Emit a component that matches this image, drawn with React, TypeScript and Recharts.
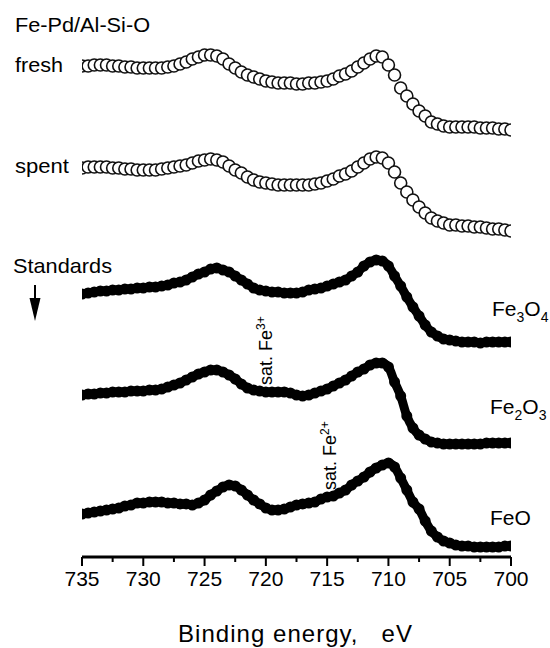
import { LineChart, Line, XAxis, YAxis } from 'recharts'

// binding energy grid (eV), high -> low as plotted
const energies = [
  735, 734.5, 734, 733.5, 733, 732.5, 732, 731.5, 731, 730.5,
  730, 729.5, 729, 728.5, 728, 727.5, 727, 726.5, 726, 725.5,
  725, 724.5, 724, 723.5, 723, 722.5, 722, 721.5, 721, 720.5,
  720, 719.5, 719, 718.5, 718, 717.5, 717, 716.5, 716, 715.5,
  715, 714.5, 714, 713.5, 713, 712.5, 712, 711.5, 711, 710.5,
  710, 709.5, 709, 708.5, 708, 707.5, 707, 706.5, 706, 705.5,
  705, 704.5, 704, 703.5, 703, 702.5, 702, 701.5, 701, 700.5,
  700,
]

// intensities (a.u.), spectra already stacked with their offsets
const fresh = [
  491, 491, 492, 492, 492, 491, 491, 490, 490, 489,
  489, 489, 489, 489, 490, 491, 493, 495, 498, 500,
  502, 502, 501, 498, 493, 489, 485, 482, 480, 478,
  476, 475, 474, 474, 474, 473, 473, 474, 474, 475,
  476, 478, 481, 483, 486, 490, 494, 498, 501, 500,
  492, 482, 469, 461, 453, 446, 441, 435, 433, 431,
  430, 430, 430, 430, 430, 429, 429, 429, 428, 428,
  427,
]
const spent = [
  389, 390, 390, 390, 390, 389, 389, 388, 388, 387,
  387, 387, 387, 388, 389, 390, 391, 392, 394, 396,
  397, 398, 397, 395, 391, 387, 384, 380, 377, 375,
  374, 373, 372, 372, 372, 372, 372, 372, 373, 374,
  376, 378, 381, 383, 386, 390, 394, 398, 400, 399,
  394, 385, 374, 365, 357, 350, 344, 339, 336, 334,
  332, 332, 331, 331, 330, 330, 329, 328, 328, 327,
  326,
]
const fe3o4 = [
  263, 264, 265, 266, 266, 267, 267, 268, 268, 269,
  269, 270, 270, 271, 272, 274, 275, 277, 280, 283,
  285, 288, 289, 287, 285, 281, 277, 273, 269, 267,
  266, 265, 265, 264, 264, 264, 265, 267, 268, 269,
  271, 273, 275, 277, 281, 285, 291, 295, 297, 296,
  291, 281, 271, 260, 250, 241, 232, 225, 221, 218,
  217, 216, 215, 215, 215, 214, 215, 215, 215, 215,
  215,
]
const fe2o3 = [
  162, 163, 163, 164, 164, 165, 165, 165, 166, 166,
  166, 167, 167, 168, 170, 172, 174, 177, 180, 183,
  185, 187, 187, 185, 182, 178, 173, 169, 167, 166,
  165, 165, 165, 165, 164, 162, 161, 162, 164, 166,
  168, 171, 174, 177, 181, 185, 188, 192, 194, 194,
  190, 175, 161, 141, 129, 122, 118, 115, 114, 113,
  113, 113, 113, 113, 113, 113, 114, 114, 114, 114,
  114,
]
const feo = [
  43, 44, 45, 46, 47, 48, 49, 51, 52, 54,
  54, 55, 55, 55, 54, 54, 53, 53, 52, 54,
  57, 62, 66, 70, 72, 71, 67, 62, 57, 53,
  49, 47, 47, 48, 50, 52, 53, 54, 55, 58,
  60, 61, 64, 67, 72, 76, 80, 85, 89, 92,
  94, 90, 79, 67, 55, 48, 36, 26, 20, 16,
  14, 12, 11, 11, 10, 10, 10, 10, 10, 11,
  11,
]

const axisTicks = [735, 732.5, 730, 727.5, 725, 722.5, 720, 717.5, 715, 712.5, 710, 707.5, 705, 702.5, 700]

const rows = energies.map((ev, i) => ({
  ev,
  fresh: fresh[i],
  spent: spent[i],
  fe3o4: fe3o4[i],
  fe2o3: fe2o3[i],
  feo: feo[i],
}))

const FONT = '"Liberation Sans", Arial, sans-serif'

function EnergyTick(props: any) {
  const { x, y, payload } = props
  const major = payload.value % 5 === 0
  return (
    <g>
      <line x1={x} x2={x} y1={y} y2={y + (major ? 9 : 5)} stroke="#000" strokeWidth={2} />
      {major && (
        <text x={x} y={y + 29} textAnchor="middle" fontSize={21} fontFamily={FONT} fill="#000">
          {payload.value}
        </text>
      )}
    </g>
  )
}

const openDot = { r: 6, fill: '#fff', stroke: '#111', strokeWidth: 1.6 }
const fullDot = { r: 5.5, fill: '#000', stroke: 'none' }

export default function App() {
  return (
    <div style={{ position: 'absolute', left: 0, top: 0, width: 550, height: 648, background: '#fff' }}>
      <LineChart width={550} height={648} data={rows} margin={{ top: 0, right: 39, bottom: 31, left: 82 }}>
        <XAxis
          dataKey="ev"
          type="number"
          domain={[700, 735]}
          reversed
          allowDataOverflow
          ticks={axisTicks}
          interval={0}
          tickLine={false}
          tickSize={0}
          tickMargin={0}
          height={60}
          axisLine={{ stroke: '#000', strokeWidth: 3 }}
          tick={<EnergyTick />}
        />
        <YAxis hide type="number" domain={[0, 557]} allowDataOverflow />
        <Line dataKey="fresh" stroke="none" dot={openDot} activeDot={false} isAnimationActive={false} />
        <Line dataKey="spent" stroke="none" dot={openDot} activeDot={false} isAnimationActive={false} />
        <Line dataKey="fe3o4" type="monotone" stroke="#000" strokeWidth={9} dot={fullDot} activeDot={false} isAnimationActive={false} />
        <Line dataKey="fe2o3" type="monotone" stroke="#000" strokeWidth={9} dot={fullDot} activeDot={false} isAnimationActive={false} />
        <Line dataKey="feo" type="monotone" stroke="#000" strokeWidth={9} dot={fullDot} activeDot={false} isAnimationActive={false} />
      </LineChart>
      <svg
        width={550}
        height={648}
        style={{ position: 'absolute', left: 0, top: 0, pointerEvents: 'none' }}
        fontFamily={FONT}
        fill="#000"
      >
        <text x={15} y={32} fontSize={21} textLength={135} lengthAdjust="spacingAndGlyphs">Fe-Pd/Al-Si-O</text>
        <text x={15} y={72} fontSize={21} textLength={48} lengthAdjust="spacingAndGlyphs">fresh</text>
        <text x={15} y={173} fontSize={21} textLength={54} lengthAdjust="spacingAndGlyphs">spent</text>
        <text x={13} y={273} fontSize={21} textLength={99} lengthAdjust="spacingAndGlyphs">Standards</text>
        <line x1={35} x2={35} y1={285} y2={300} stroke="#000" strokeWidth={2} />
        <polygon points="29.5,298 40.5,298 35,321" fill="#000" />

        <text x={492} y={316} fontSize={21}>
          Fe<tspan fontSize={14} dy={6}>3</tspan>
          <tspan dy={-6}>O</tspan>
          <tspan fontSize={14} dy={6}>4</tspan>
        </text>
        <text x={490} y={414} fontSize={21}>
          Fe<tspan fontSize={14} dy={6}>2</tspan>
          <tspan dy={-6}>O</tspan>
          <tspan fontSize={14} dy={6}>3</tspan>
        </text>
        <text x={490} y={525} fontSize={21}>FeO</text>

        <text x={272} y={385} fontSize={18} transform="rotate(-90 272 385)">
          sat. Fe<tspan fontSize={12} dy={-7}>3+</tspan>
        </text>
        <text x={336} y={490} fontSize={18} transform="rotate(-90 336 490)">
          sat. Fe<tspan fontSize={12} dy={-7}>2+</tspan>
        </text>

        <text
          x={178}
          y={642}
          fontSize={24}
          textLength={234}
          lengthAdjust="spacing"
          style={{ whiteSpace: 'pre' }}
        >
          Binding energy,   eV
        </text>
      </svg>
    </div>
  )
}
